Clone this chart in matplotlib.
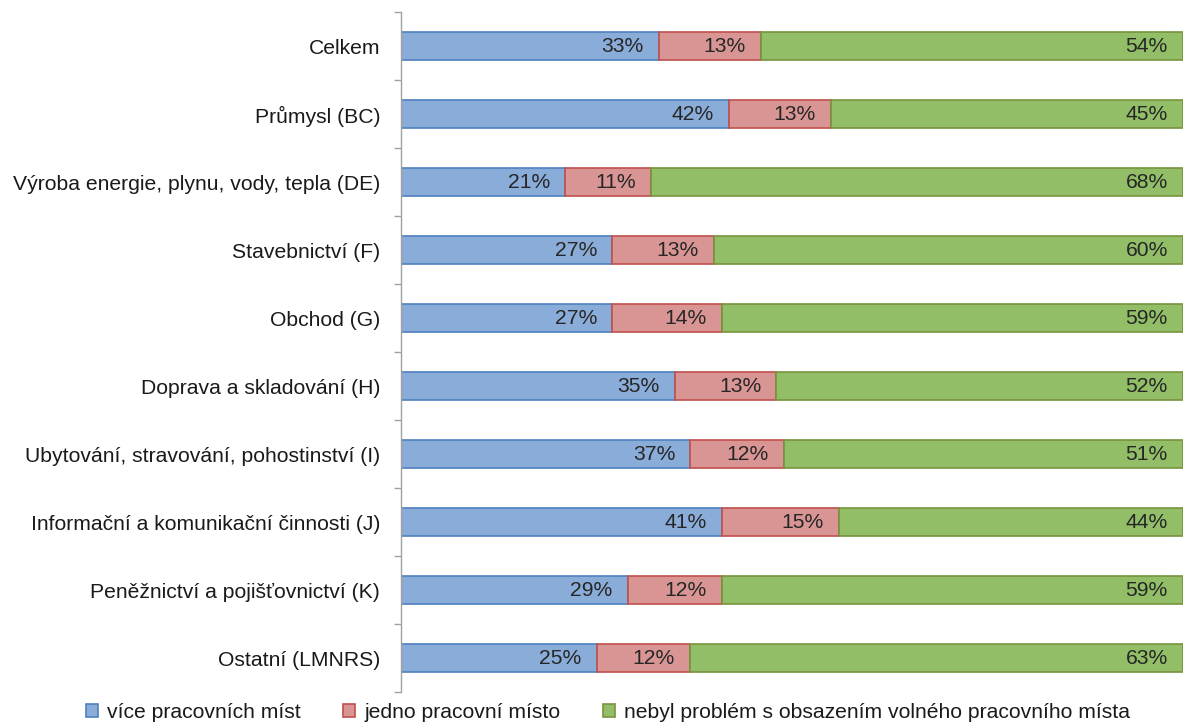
import numpy as np
import matplotlib.pyplot as plt

plt.rcParams['font.family'] = ['Liberation Sans', 'DejaVu Sans']

# --- data ---
categories = [
    "Celkem",
    "Průmysl (BC)",
    "Výroba energie, plynu, vody, tepla (DE)",
    "Stavebnictví (F)",
    "Obchod (G)",
    "Doprava a skladování (H)",
    "Ubytování, stravování, pohostinství (I)",
    "Informační a komunikační činnosti (J)",
    "Peněžnictví a pojišťovnictví (K)",
    "Ostatní (LMNRS)",
]
more_jobs = [33, 42, 21, 27, 27, 35, 37, 41, 29, 25]
one_job = [13, 13, 11, 13, 14, 13, 12, 15, 12, 12]
no_problem = [54, 45, 68, 60, 59, 52, 51, 44, 59, 63]
series_names = [
    "více pracovních míst",
    "jedno pracovní místo",
    "nebyl problém s obsazením volného pracovního místa",
]

fills = ['#8AACD8', '#D99594', '#91BE67']
edges = ['#4F81BD', '#C0504D', '#77933C']
fs = 15.2

fig = plt.figure(figsize=(11.85, 7.24), dpi=100)
ax = fig.add_axes([0.3384, 0.0442, 0.6600, 0.9392])

y = np.arange(len(categories))
left = np.zeros(len(categories))
for vals, name, fc, ec in zip([more_jobs, one_job, no_problem], series_names, fills, edges):
    vals = np.array(vals, dtype=float)
    ax.barh(y, vals, left=left, height=0.42, color=fc, edgecolor=ec,
            linewidth=1.2, label=name)
    for yi, l, v in zip(y, left, vals):
        ax.annotate(f"{int(v)}%", (l + v, yi), xytext=(-11, 0),
                    textcoords='offset points', ha='right', va='center',
                    fontsize=fs, color='#262626')
    left += vals

ax.set_xlim(0, 100)
ax.set_ylim(len(categories) - 0.5, -0.5)
ax.set_yticks(y)
ax.set_yticklabels(categories, fontsize=fs, color='#1a1a1a')
ax.tick_params(axis='y', length=0, pad=15)
ax.set_yticks(np.arange(len(categories) + 1) - 0.5, minor=True)
ax.tick_params(axis='y', which='minor', length=5, color='#A0A0A0', width=1)
ax.set_xticks([])
for s in ['top', 'right', 'bottom']:
    ax.spines[s].set_visible(False)
ax.spines['left'].set_color('#A0A0A0')
ax.spines['left'].set_linewidth(1)

fig.legend(loc='center', bbox_to_anchor=(0.513, 0.016), ncol=3,
           frameon=False, fontsize=fs, handlelength=0.57, handleheight=0.57,
           handletextpad=0.43, columnspacing=2.0, borderpad=0,
           labelcolor='#1a1a1a')

fig.savefig("out.png", dpi=100)
